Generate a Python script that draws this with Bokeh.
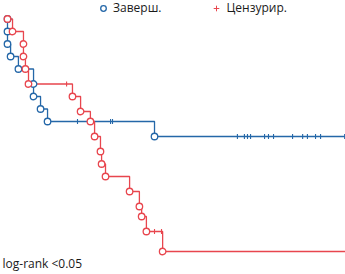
import numpy as np
from bokeh.plotting import figure
from bokeh.models import Legend, LegendItem, Label, Range1d
from bokeh.embed import file_html
from bokeh.resources import INLINE

# ---- data (time in months, survival probability) ----
blue_event_t = [0.0, 0.0, 0.0, 1.1, 3.9, 9.3, 9.3, 11.8, 14.3, 52.5]
blue_event_s = [0.99, 0.94, 0.89, 0.84, 0.79, 0.73, 0.68, 0.63, 0.58, 0.52]
blue_censor_t = [25.0, 36.8, 37.5, 82.1, 84.6, 85.7, 86.8, 91.8, 93.2, 95.0,
                 101.8, 105.4, 107.1, 110.0, 111.8, 120.4]
blue_end_t = 120.4

red_event_t = [0.0, 1.8, 5.7, 5.7, 6.4, 7.5, 23.2, 26.1, 29.6, 31.1, 33.2,
               33.6, 35.0, 43.6, 47.1, 47.9, 49.6, 55.4]
red_event_s = [0.99, 0.94, 0.89, 0.84, 0.79, 0.73, 0.68, 0.62, 0.58, 0.52,
               0.46, 0.41, 0.36, 0.30, 0.24, 0.20, 0.14, 0.06]
red_censor_t = [21.1, 52.5, 55.0]
red_end_t = 120.7

legend_labels = ["Заверш.", "Цензурир."]
note_text = "log-rank <0.05"

BLUE = "#2467a8"
RED = "#e8464e"
FONT = "Open Sans"


def step_path(et, es, end_t):
    xs, ys = [0.0], [1.0]
    cur = 1.0
    for t, s in zip(et, es):
        xs.append(t); ys.append(cur)
        xs.append(t); ys.append(s)
        cur = s
    xs.append(end_t); ys.append(cur)
    return xs, ys


def surv_at(et, es, t):
    s = 1.0
    for a, b in zip(et, es):
        if a <= t:
            s = b
    return s


p = figure(width=345, height=274, output_backend="svg", toolbar_location=None,
           x_range=Range1d(-2.5, 120.7), y_range=Range1d(-0.032, 1.064),
           min_border=0, outline_line_color=None)
p.axis.visible = False
p.grid.visible = False
p.background_fill_color = None
p.border_fill_color = None

bx, by = step_path(blue_event_t, blue_event_s, blue_end_t)
rx, ry = step_path(red_event_t, red_event_s, red_end_t)

p.line(bx, by, line_color=BLUE, line_width=1.3)
p.line(rx, ry, line_color=RED, line_width=1.3)

p.scatter(blue_censor_t, [surv_at(blue_event_t, blue_event_s, t) for t in blue_censor_t],
          marker="dash", angle=np.pi / 2, size=5, line_color=BLUE, line_width=1.1)
p.scatter(red_censor_t, [surv_at(red_event_t, red_event_s, t) for t in red_censor_t],
          marker="dash", angle=np.pi / 2, size=5, line_color=RED, line_width=1.1)

p.scatter(blue_event_t, blue_event_s, marker="circle", size=6.5,
          fill_color="white", line_color=BLUE, line_width=1.3)
p.scatter(red_event_t, red_event_s, marker="circle", size=6.5,
          fill_color="white", line_color=RED, line_width=1.3)

# legend-only renderers (no visible data point)
lg_c = p.scatter([float("nan")], [float("nan")], marker="circle", size=6,
                 fill_color="white", line_color=BLUE, line_width=1.3)
lg_x = p.scatter([float("nan")], [float("nan")], marker="cross", size=6,
                 line_color=RED, line_width=1)

legend = Legend(items=[LegendItem(label=legend_labels[0], renderers=[lg_c], index=0),
                       LegendItem(label=legend_labels[1], renderers=[lg_x], index=0)],
                orientation="horizontal", location=(96, 258),
                glyph_width=14, glyph_height=14, label_height=14,
                label_standoff=3, spacing=48, padding=0, margin=0,
                label_text_font=FONT, label_text_font_size="12px",
                label_text_color="#1a1a1a",
                background_fill_alpha=0, border_line_color=None)
p.add_layout(legend, "center")

p.add_layout(Label(x=2, y=3, x_units="screen", y_units="screen", text=note_text,
                   text_font=FONT, text_font_size="12px", text_color="#1a1a1a",
                   text_baseline="bottom"))

open("out.html", "w").write(file_html(p, INLINE))
